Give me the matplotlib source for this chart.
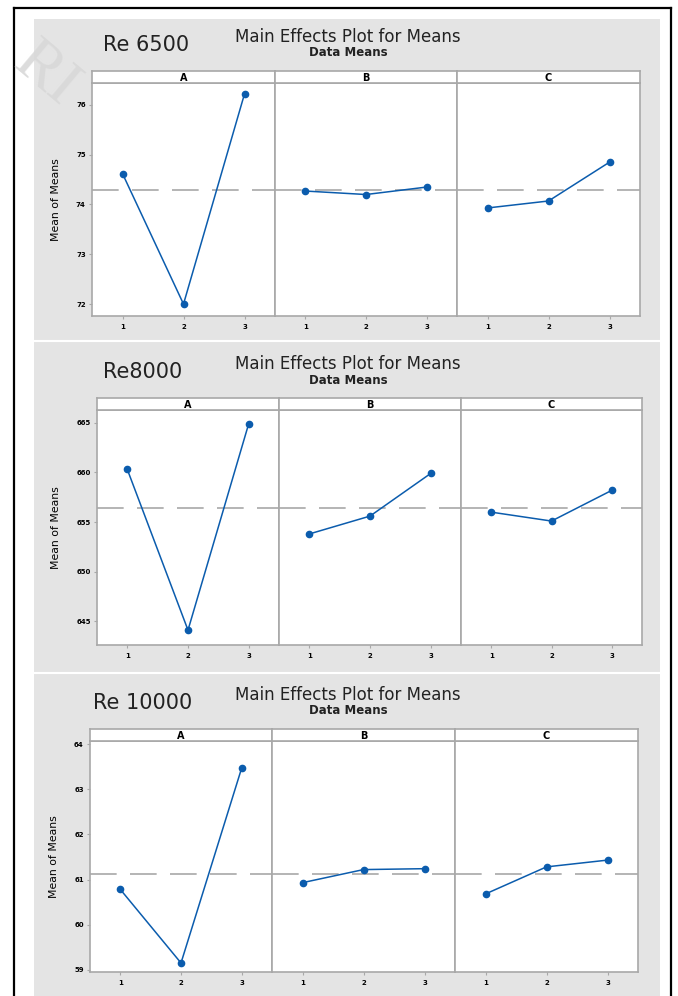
import matplotlib.pyplot as plt
from matplotlib.patches import Rectangle
from matplotlib.lines import Line2D

W, H = 678, 996

levels = [1, 2, 3]
factors = ["A", "B", "C"]

# Re 6500
re6500_a = [74.62, 72.00, 76.22]
re6500_b = [74.27, 74.20, 74.35]
re6500_c = [73.93, 74.07, 74.85]
re6500_mean = 74.30
re6500_ticks = [72, 73, 74, 75, 76]

# Re 8000
re8000_a = [660.3, 644.1, 664.9]
re8000_b = [653.8, 655.6, 659.9]
re8000_c = [656.0, 655.1, 658.2]
re8000_mean = 656.4
re8000_ticks = [645, 650, 655, 660, 665]

# Re 10000
re10000_a = [60.78, 59.15, 63.47]
re10000_b = [60.93, 61.22, 61.24]
re10000_c = [60.68, 61.28, 61.43]
re10000_mean = 61.13
re10000_ticks = [59, 60, 61, 62, 63, 64]

blue = "#0b5cad"
frame = "#a8a8a8"

fig = plt.figure(figsize=(W / 100, H / 100), dpi=100)
fig.patch.set_facecolor("white")


def box(x0, y0, x1, y1):
    # pixel box (top-left origin) -> figure fraction
    return [x0 / W, 1 - y1 / H, (x1 - x0) / W, (y1 - y0) / H]


def fx(x):
    return x / W


def fy(y):
    return 1 - y / H


# gray background and outer black frame
fig.patches.append(Rectangle((fx(34), 0), fx(660) - fx(34), fy(19),
                             transform=fig.transFigure, facecolor="#e4e4e4",
                             edgecolor="none", zorder=-10))
for xs, ys in [([14, 14], [8, 996]), ([14, 671], [8, 8]), ([671, 671], [8, 996])]:
    fig.lines.append(Line2D([fx(v) for v in xs], [fy(v) for v in ys],
                            transform=fig.transFigure, color="black", lw=1.6,
                            zorder=-5))
for yy in [341, 673]:
    fig.lines.append(Line2D([fx(34), fx(660)], [fy(yy), fy(yy)],
                            transform=fig.transFigure, color="white", lw=1.5,
                            zorder=-5))

# faint watermark
fig.text(fx(45), fy(75), "RI", fontsize=46, family="Liberation Serif",
         color="#d8d8d8", rotation=-40, ha="center", va="center", alpha=0.9,
         zorder=-4)


def draw_panel(label, label_x, top, x0, x1, splits, bottom, ylim, yticks,
               series, mean):
    strip_top, strip_bot = top + 71, top + 83
    fig.text(fx(label_x), fy(top + 45), label, fontsize=15, color="#222222",
             va="center", ha="left")
    fig.text(fx(348), fy(top + 37), "Main Effects Plot for Means",
             fontsize=12, color="#222222", ha="center", va="center")
    fig.text(fx(348), fy(top + 53), "Data Means", fontsize=8.5,
             fontweight="bold", color="#222222", ha="center", va="center")
    edges = [x0, splits[0], splits[1], x1]
    for i in range(3):
        ax = fig.add_axes(box(edges[i], strip_bot, edges[i + 1], bottom))
        ax.axhline(mean, color="#a8a8a8", lw=1.2, dashes=(16, 8), zorder=1)
        ax.plot(levels, series[i], color=blue, lw=1.1, marker="o", ms=4.5,
                zorder=3)
        ax.set_xlim(0.5, 3.5)
        ax.set_ylim(ylim)
        ax.set_xticks(levels)
        ax.set_xticklabels([str(v) for v in levels], fontsize=5,
                           fontweight="bold")
        ax.tick_params(axis="x", length=2.5, width=0.8, color=frame, pad=3)
        if i == 0:
            ax.set_yticks(yticks)
            ax.set_yticklabels([str(v) for v in yticks], fontsize=5,
                               fontweight="bold")
            ax.tick_params(axis="y", length=2.5, width=0.8, color=frame,
                           pad=2)
            ax.set_ylabel("Mean of Means", fontsize=7.8, labelpad=11)
        else:
            ax.set_yticks([])
        for s in ax.spines.values():
            s.set_color(frame)
            s.set_linewidth(1.2)

        strip = fig.add_axes(box(edges[i], strip_top, edges[i + 1], strip_bot))
        strip.set_xticks([])
        strip.set_yticks([])
        for s in strip.spines.values():
            s.set_color(frame)
            s.set_linewidth(1.2)
        strip.text(0.5, 0.45, factors[i], fontsize=7, fontweight="bold",
                   ha="center", va="center", transform=strip.transAxes)


draw_panel("Re 6500", 103, 0, 92, 640, [275, 457], 316, (71.76, 76.44),
           re6500_ticks, [re6500_a, re6500_b, re6500_c], re6500_mean)
draw_panel("Re8000", 103, 327, 97, 642, [279, 461], 645, (642.6, 666.3),
           re8000_ticks, [re8000_a, re8000_b, re8000_c], re8000_mean)
draw_panel("Re 10000", 93, 658, 90, 638, [272, 455], 972, (58.95, 64.07),
           re10000_ticks, [re10000_a, re10000_b, re10000_c], re10000_mean)

fig.savefig("out.png", dpi=100)
